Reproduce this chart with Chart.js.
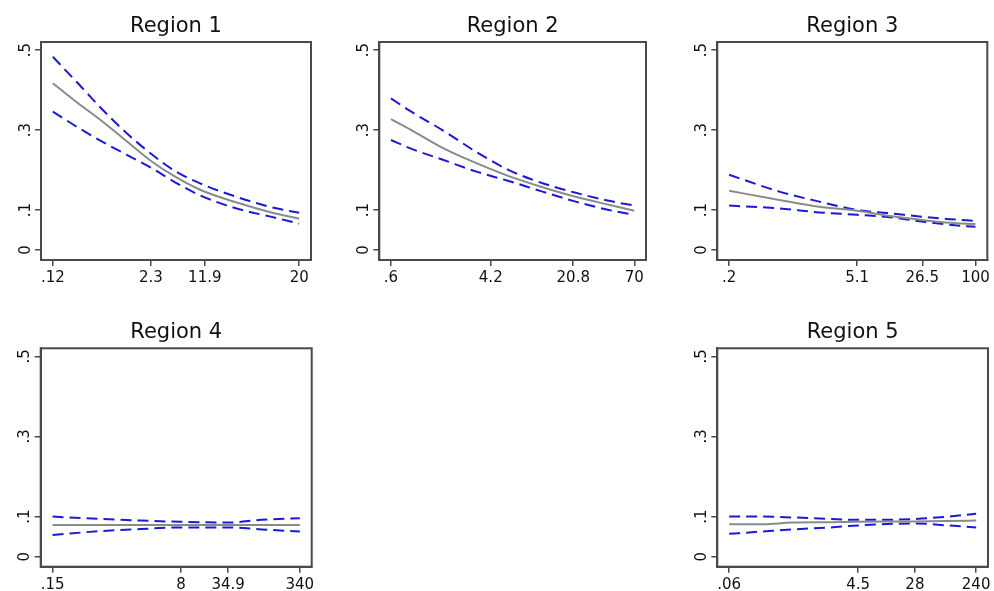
<!DOCTYPE html>
<html>
<head>
<meta charset="utf-8">
<script src="https://cdn.jsdelivr.net/npm/chart.js@4.4.1/dist/chart.umd.min.js"></script>
<style>
  body { margin: 0; background: #fff; }
  .panel { position: absolute; }
</style>
</head>
<body>
<div class="panel" style="left:0;top:0;width:330px;height:300px"><canvas id="c1"></canvas></div>
<div class="panel" style="left:338px;top:0;width:330px;height:300px"><canvas id="c2"></canvas></div>
<div class="panel" style="left:676px;top:0;width:318px;height:300px"><canvas id="c3"></canvas></div>
<div class="panel" style="left:0;top:306px;width:330px;height:285px"><canvas id="c4"></canvas></div>
<div class="panel" style="left:676px;top:306px;width:318px;height:285px"><canvas id="c5"></canvas></div>
<script>
// y axis, same in every region
const yTicks = [0, 0.1, 0.3, 0.5];
const yTickLabels = ['0', '.1', '.3', '.5'];

// Region 1
const r1X = [0, 10, 20, 30, 40, 50, 60, 75, 88, 100];
const r1Fit = [0.417, 0.368, 0.322, 0.272, 0.222, 0.182, 0.150, 0.118, 0.095, 0.078];
const r1Upper = [0.483, 0.418, 0.352, 0.292, 0.240, 0.196, 0.166, 0.132, 0.108, 0.093];
const r1Lower = [0.346, 0.307, 0.271, 0.238, 0.205, 0.168, 0.136, 0.103, 0.084, 0.066];
const r1TickPos = [0, 39.8, 61.7, 100];
const r1TickLabels = ['.12', '2.3', '11.9', '20'];

// Region 2
const r2X = [0, 8, 21.6, 35.1, 48.7, 62.3, 75.9, 89.5, 100];
const r2Fit = [0.327, 0.301, 0.254, 0.217, 0.184, 0.157, 0.133, 0.113, 0.098];
const r2Upper = [0.379, 0.347, 0.298, 0.245, 0.199, 0.167, 0.143, 0.123, 0.111];
const r2Lower = [0.275, 0.254, 0.225, 0.196, 0.172, 0.146, 0.121, 0.100, 0.088];
const r2TickPos = [0, 41, 74.9, 100];
const r2TickLabels = ['.6', '4.2', '20.8', '70'];

// Region 3
const r3X = [0, 20.4, 36.6, 52, 65.1, 78.4, 89.6, 100];
const r3Fit = [0.148, 0.125, 0.108, 0.098, 0.085, 0.075, 0.068, 0.065];
const r3Upper = [0.188, 0.146, 0.121, 0.100, 0.092, 0.083, 0.077, 0.073];
const r3Lower = [0.111, 0.104, 0.094, 0.088, 0.082, 0.071, 0.063, 0.058];
const r3TickPos = [0, 52, 78.4, 100];
const r3TickLabels = ['.2', '5.1', '26.5', '100'];

// Region 4
const r4X = [0, 19.6, 35.8, 52, 71, 84.5, 100];
const r4Fit = [0.079, 0.079, 0.079, 0.079, 0.079, 0.079, 0.079];
const r4Upper = [0.100, 0.094, 0.090, 0.087, 0.085, 0.092, 0.096];
const r4Lower = [0.054, 0.064, 0.069, 0.073, 0.073, 0.068, 0.063];
const r4TickPos = [0, 52, 71, 100];
const r4TickLabels = ['.15', '8', '34.9', '340'];

// Region 5
const r5X = [0, 13.8, 25.4, 41, 52.2, 75.2, 88.5, 100];
const r5Fit = [0.081, 0.081, 0.085, 0.086, 0.087, 0.088, 0.089, 0.090];
const r5Upper = [0.100, 0.100, 0.098, 0.094, 0.092, 0.094, 0.100, 0.107];
const r5Lower = [0.057, 0.063, 0.068, 0.073, 0.078, 0.083, 0.078, 0.073];
const r5TickPos = [0, 52.2, 75.2, 100];
const r5TickLabels = ['.06', '4.5', '28', '240'];

const FONT = 'DejaVu Sans';
const AXIS = '#4a4a4a';
const BAND = 'rgb(25,25,215)';

// box around the plot area plus the region title above it
const framePlugin = {
  id: 'frame',
  afterDraw(chart, args, opts) {
    const { ctx, chartArea: a } = chart;
    ctx.save();
    ctx.strokeStyle = AXIS;
    ctx.lineWidth = 2;
    ctx.strokeRect(a.left, a.top, a.right - a.left, a.bottom - a.top);
    ctx.fillStyle = '#111';
    ctx.font = '21px "' + FONT + '"';
    ctx.textAlign = 'center';
    ctx.textBaseline = 'alphabetic';
    ctx.fillText(opts.text, (a.left + a.right) / 2, a.top - 10);
    ctx.restore();
  }
};

function line(xs, ys, color, dash) {
  return {
    data: xs.map((x, i) => ({ x: x, y: ys[i] })),
    borderColor: color,
    borderWidth: 2,
    borderDash: dash,
    pointRadius: 0,
    cubicInterpolationMode: 'monotone',
    fill: false
  };
}

function makePanel(id, title, xs, fit, upper, lower, tickPos, tickLabels, box) {
  new Chart(document.getElementById(id), {
    type: 'line',
    data: {
      datasets: [
        line(xs, fit, '#8a8a8a', []),
        line(xs, upper, BAND, [11, 6]),
        line(xs, lower, BAND, [11, 6])
      ]
    },
    plugins: [framePlugin],
    options: {
      responsive: true,
      maintainAspectRatio: false,
      animation: false,
      layout: { padding: { top: box.top, right: box.right, left: 0, bottom: 0 } },
      plugins: {
        legend: { display: false },
        tooltip: { enabled: false },
        frame: { text: title }
      },
      scales: {
        x: {
          type: 'linear',
          min: -4.8,
          max: 104.8,
          afterBuildTicks: s => { s.ticks = tickPos.map(v => ({ value: v })); },
          afterFit: s => { s.height = box.xh; },
          ticks: {
            autoSkip: false,
            maxRotation: 0,
            color: '#111',
            font: { family: FONT, size: 15 },
            callback: (v, i) => tickLabels[i]
          },
          grid: { drawOnChartArea: false, tickLength: 6, color: AXIS, lineWidth: 1.5 },
          border: { display: true, color: AXIS, width: 2 }
        },
        y: {
          type: 'linear',
          min: -0.025,
          max: 0.52,
          afterBuildTicks: s => { s.ticks = yTicks.map(v => ({ value: v })); },
          afterFit: s => { s.width = box.yw; },
          ticks: {
            autoSkip: false,
            minRotation: 90,
            maxRotation: 90,
            crossAlign: 'center',
            padding: 2,
            color: '#111',
            font: { family: FONT, size: 15 },
            callback: (v, i) => yTickLabels[i]
          },
          grid: { drawOnChartArea: false, tickLength: 6, color: AXIS, lineWidth: 1.5 },
          border: { display: true, color: AXIS, width: 2 }
        }
      }
    }
  });
}

makePanel('c1', 'Region 1', r1X, r1Fit, r1Upper, r1Lower, r1TickPos, r1TickLabels,
  { top: 42, right: 19, yw: 41, xh: 40 });
makePanel('c2', 'Region 2', r2X, r2Fit, r2Upper, r2Lower, r2TickPos, r2TickLabels,
  { top: 42, right: 22, yw: 41.3, xh: 40 });
makePanel('c3', 'Region 3', r3X, r3Fit, r3Upper, r3Lower, r3TickPos, r3TickLabels,
  { top: 42, right: 6.7, yw: 41.3, xh: 40 });
makePanel('c4', 'Region 4', r4X, r4Fit, r4Upper, r4Lower, r4TickPos, r4TickLabels,
  { top: 42.3, right: 18.3, yw: 40.7, xh: 24.3 });
makePanel('c5', 'Region 5', r5X, r5Fit, r5Upper, r5Lower, r5TickPos, r5TickLabels,
  { top: 42.3, right: 6, yw: 41.3, xh: 24.3 });
</script>
</body>
</html>
